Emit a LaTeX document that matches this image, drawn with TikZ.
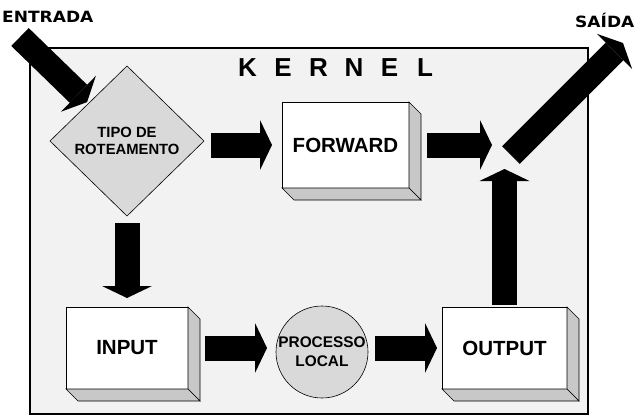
\documentclass[tikz,border=0pt]{standalone}
\usepackage{fontspec}
\setmainfont{Liberation Sans}
\newfontfamily\widesans[FakeStretch=1.1]{DejaVu Sans}
\usepackage{tikz}
\usetikzlibrary{arrows.meta,
                calc,
                positioning,
                shapes.geometric
                }
\definecolor{kernelgray}{RGB}{242,242,242}
\definecolor{shapegray}{RGB}{217,217,217}
\definecolor{sidegray}{RGB}{200,200,200}

\tikzset{
    bigarrow/.style={line width=25pt, -{Triangle[length=12pt, width=50pt, line width=0pt]}},
    blockbox/.style={draw, fill=white, line width=0.6pt, inner sep=0pt, outer sep=0pt,
                     font=\bfseries\fontsize{20.5}{24}\selectfont},
    outlabel/.style={anchor=base west, inner sep=0pt, font=\widesans\bfseries\fontsize{15.5}{18}\selectfont},
    kerneltxt/.style={anchor=base, inner sep=0pt, font=\bfseries\fontsize{26}{30}\selectfont}
}

% right and bottom faces of a box
\newcommand{\boxsides}[1]{%
    \filldraw[fill=sidegray, line width=0.6pt] (#1.north east) -- ++(12,12)
        -- ($(#1.south east)+(12,12)$) -- (#1.south east) -- cycle;
    \filldraw[fill=sidegray, line width=0.6pt] (#1.south west) -- (#1.south east)
        -- ++(12,12) -- ($(#1.south west)+(12,12)$) -- cycle;
}

\begin{document}
\begin{tikzpicture}[x=1pt, y=-1pt]
    \useasboundingbox (0,0) rectangle (640,416);
    \node[draw, fill=kernelgray, line width=1.5pt, minimum width=558pt, minimum height=366pt,
          inner sep=0pt, outer sep=0pt] (kernel) at (309,231) {};
    \foreach \ch [count=\i] in {K,E,R,N,E,L}
        \node[kerneltxt] (k\i) at ({212+35.5*\i},76) {\ch};

    \node[diamond, draw, fill=shapegray, line width=0.6pt, minimum width=154pt, minimum height=150pt,
          inner sep=0pt, outer sep=0pt, align=center, font=\bfseries\fontsize{14.8}{17}\selectfont]
          (tipo) at (127,141) {TIPO DE\\ROTEAMENTO};
    \node[blockbox, minimum width=127pt, minimum height=86pt] (forward) at (345.5,145) {FORWARD};
    \node[blockbox, minimum width=122pt, minimum height=82pt] (input) at (127,348) {INPUT};
    \node[blockbox, minimum width=125pt, minimum height=82pt] (output) at (504.5,348) {OUTPUT};
    \node[circle, draw, fill=shapegray, line width=0.6pt, minimum size=92pt, inner sep=0pt, outer sep=0pt,
          align=center, font=\bfseries\fontsize{15.4}{19}\selectfont] (processo) at (322,352) {PROCESSO\\LOCAL};
    \boxsides{forward}
    \boxsides{input}
    \boxsides{output}

    \node[outlabel] (entrada) at (2,22) {ENTRADA};
    \node[outlabel] (saida) at (575,27) {SAÍDA};

    \coordinate (entradain) at (20,37);
    \coordinate (juncao) at (500,145);
    \coordinate (saidain) at (511,155);
    \coordinate (saidaout) at (623,43);

    \draw[bigarrow, shorten >=2pt] (entradain) -- (tipo.north west);
    \draw[bigarrow, shorten <=7pt, shorten >=10pt] (tipo.east |- forward.west) -- (forward.west);
    \draw[bigarrow, shorten <=18pt, shorten >=8pt] (forward.east) -- (juncao);
    \draw[bigarrow] (saidain) -- (saidaout);
    \draw[bigarrow, shorten <=7pt, shorten >=9pt] (tipo.south) -- (input.north);
    \draw[bigarrow, shorten <=17pt, shorten >=9pt] (input.east) -- (input.east -| processo.west);
    \draw[bigarrow, shorten <=7pt, shorten >=5pt] (processo.east |- output.west) -- (output.west);
    \draw[bigarrow, shorten <=2pt, shorten >=24pt] (output.north) -- (output.north |- juncao);
\end{tikzpicture}
\end{document}
